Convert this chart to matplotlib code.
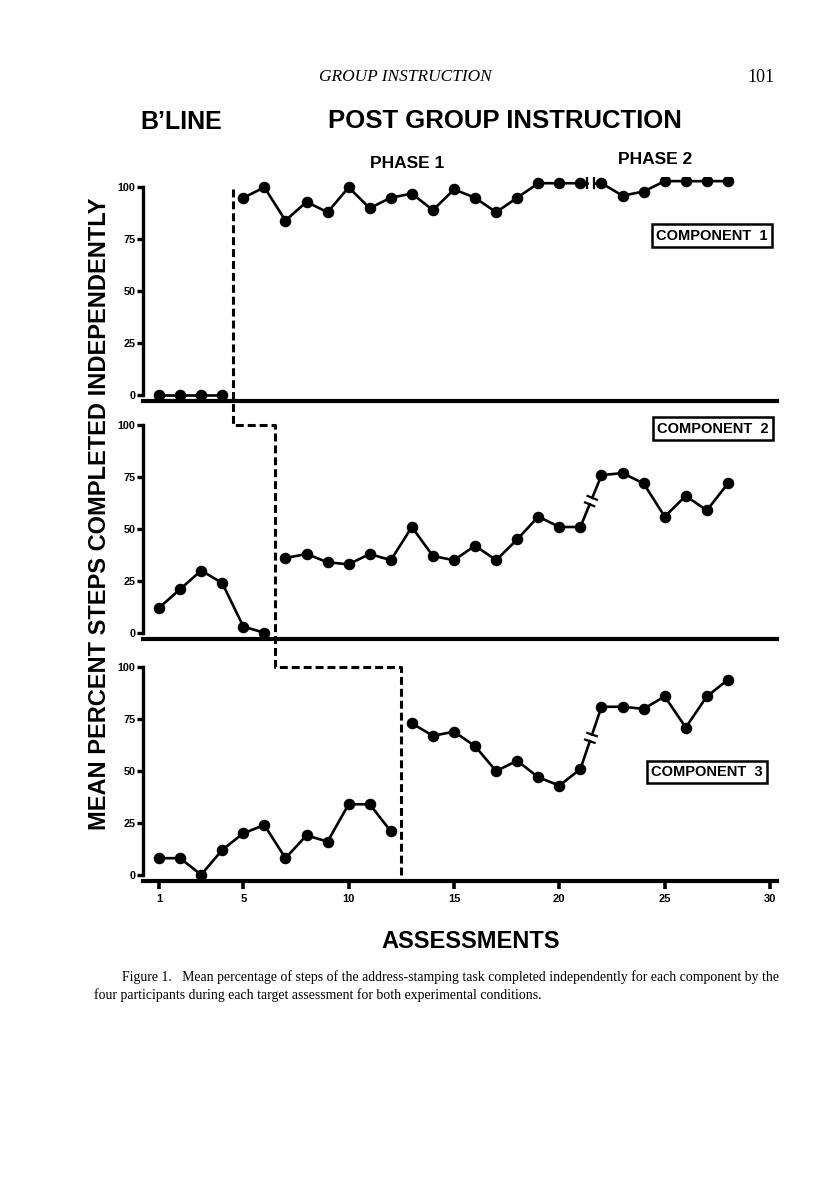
import numpy as np
import matplotlib
matplotlib.use("Agg")
import matplotlib.pyplot as plt
from matplotlib.lines import Line2D

# data (assessment number -> mean percent)
top_base_x = [1, 2, 3, 4]
top_base = [0, 0, 0, 0]
top_post_x = list(range(5, 29))
top_post = [95, 100, 84, 93, 88, 100, 90, 95, 97, 89, 99, 95, 88, 95, 102, 102, 102,
            102, 96, 98, 103, 103, 103, 103]

mid_base_x = [1, 2, 3, 4, 5, 6]
mid_base = [12, 21, 30, 24, 3, 0]
mid_post_x = list(range(7, 29))
mid_post = [36, 38, 34, 33, 38, 35, 51, 37, 35, 42, 35, 45, 56, 51, 51,
            76, 77, 72, 56, 66, 59, 72]

bot_base_x = list(range(1, 13))
bot_base = [8, 8, 0, 12, 20, 24, 8, 19, 16, 34, 34, 21]
bot_post_x = list(range(13, 29))
bot_post = [73, 67, 69, 62, 50, 55, 47, 43, 51, 81, 81, 80, 86, 71, 86, 94]

phase_change = [4.5, 6.5, 12.5]   # baseline -> post, per component
phase2_start = 22                 # first assessment of phase 2
components = ["COMPONENT  1", "COMPONENT  2", "COMPONENT  3"]
y_ticks = [0, 25, 50, 75, 100]
x_ticks = [1, 5, 10, 15, 20, 25, 30]

W, H = 816, 1195
fig = plt.figure(figsize=(W / 100, H / 100), dpi=100)

SANS = "Liberation Sans"
SERIF = "Liberation Serif"


def px_axes(left, top, right, bottom):
    return fig.add_axes([left / W, 1 - bottom / H, (right - left) / W, (bottom - top) / H])


ax_top = px_axes(143, 177, 777, 401)
ax_mid = px_axes(143, 415, 777, 639)
ax_bot = px_axes(143, 657, 777, 881)
axes = [ax_top, ax_mid, ax_bot]

series = [(top_base_x, top_base, top_post_x, top_post),
          (mid_base_x, mid_base, mid_post_x, mid_post),
          (bot_base_x, bot_base, bot_post_x, bot_post)]

box_pos = [(0.897, 0.738), (0.899, 0.939), (0.890, 0.487)]

style = dict(color="black", lw=1.9, marker="o", ms=7.3, mfc="black", mec="black")

for ax, (bx, by, px, py), comp, bp in zip(axes, series, components, box_pos):
    ax.set_xlim(0.24, 30.33)
    ax.set_ylim(-3, 105)
    for s in ["top", "right"]:
        ax.spines[s].set_visible(False)
    ax.spines["left"].set_linewidth(2.4)
    ax.spines["left"].set_bounds(0, 100)
    ax.spines["bottom"].set_linewidth(3.0)
    ax.set_yticks(y_ticks)
    ax.set_yticklabels([str(t) for t in y_ticks])
    ax.tick_params(axis="y", direction="out", length=4, width=2.4, pad=1.5,
                   labelsize=7.8)
    for lab in ax.get_yticklabels():
        lab.set_fontweight("bold")
        lab.set_family(SANS)

    ax.plot(bx, by, **style)
    px = np.array(px)
    py = np.array(py)
    p1 = px < phase2_start
    ax.plot(px[p1], py[p1], **style)
    ax.plot(px[~p1], py[~p1], **style)

    # break between phase 1 and phase 2: gap with two short bars
    a = ax.transData.transform((px[p1][-1], py[p1][-1]))
    b = ax.transData.transform((px[~p1][0], py[~p1][0]))
    d = (b - a) / np.hypot(*(b - a))
    n = np.array([-d[1], d[0]])
    m = (a + b) / 2
    g = 3.5
    inv = ax.transData.inverted()
    for seg in [(a, m - g * d), (m + g * d, b)]:
        q = inv.transform(np.array(seg))
        ax.plot(q[:, 0], q[:, 1], color="black", lw=1.9)
    for c in [m - g * d, m + g * d]:
        q = inv.transform(np.array([c - 5 * n, c + 5 * n]))
        ax.plot(q[:, 0], q[:, 1], color="black", lw=1.6)

    ax.text(bp[0], bp[1], comp, transform=ax.transAxes, ha="center", va="center",
            family=SANS, fontweight="bold", fontsize=10.5,
            bbox=dict(boxstyle="square,pad=0.3", fc="white", ec="black", lw=1.8))

for ax in [ax_top, ax_mid]:
    ax.set_xticks([])

ax_bot.set_xticks(x_ticks)
ax_bot.set_xticklabels([str(t) for t in x_ticks])
ax_bot.tick_params(axis="x", direction="out", length=6, width=2.6, pad=3, labelsize=8)
for lab in ax_bot.get_xticklabels():
    lab.set_fontweight("bold")
    lab.set_family(SANS)

# dashed phase-change staircase across the three panels
A = ax_top.transData.transform((phase_change[0], 99))
Bm = ax_mid.transData.transform((phase_change[0], 100))
C = ax_mid.transData.transform((phase_change[1], 100))
Db = ax_bot.transData.transform((phase_change[1], 100))
E = ax_bot.transData.transform((phase_change[2], 100))
F = ax_bot.transData.transform((phase_change[2], -1))
pts = np.array([A, [A[0], Bm[1]], C, [C[0], Db[1]], E, F])
pts = fig.transFigure.inverted().transform(pts)
fig.add_artist(Line2D(pts[:, 0], pts[:, 1], transform=fig.transFigure, color="black",
                      lw=2.2, linestyle=(0, (2.6, 1.3))))

# titles and labels
fig.text(405 / W, 1 - 77 / H, "GROUP INSTRUCTION", ha="center", va="center",
         family=SERIF, style="italic", fontsize=12.5)
fig.text(775 / W, 1 - 77 / H, "101", ha="right", va="center", family=SERIF, fontsize=13)
fig.text(181 / W, 1 - 122 / H, "B\u2019LINE", ha="center", va="center", family=SANS,
         fontweight="bold", fontsize=18)
fig.text(505 / W, 1 - 121 / H, "POST GROUP INSTRUCTION", ha="center", va="center",
         family=SANS, fontweight="bold", fontsize=18.5)
fig.text(407 / W, 1 - 163 / H, "PHASE 1", ha="center", va="center", family=SANS,
         fontweight="bold", fontsize=12.5)
fig.text(655 / W, 1 - 160 / H, "PHASE 2", ha="center", va="center", family=SANS,
         fontweight="bold", fontsize=12.5)
fig.text(100 / W, 1 - 514 / H, "MEAN PERCENT STEPS COMPLETED INDEPENDENTLY",
         rotation=90, ha="center", va="center", family=SANS, fontweight="bold",
         fontsize=17)
fig.text(471 / W, 1 - 942 / H, "ASSESSMENTS", ha="center", va="center", family=SANS,
         fontweight="bold", fontsize=17)

fig.text(122 / W, 1 - 977 / H,
         "Figure 1.   Mean percentage of steps of the address-stamping task completed "
         "independently for each component by the",
         ha="left", va="center", family=SERIF, fontsize=9.9)
fig.text(94 / W, 1 - 995 / H,
         "four participants during each target assessment for both experimental conditions.",
         ha="left", va="center", family=SERIF, fontsize=9.9)

fig.savefig("out.png", dpi=100)
